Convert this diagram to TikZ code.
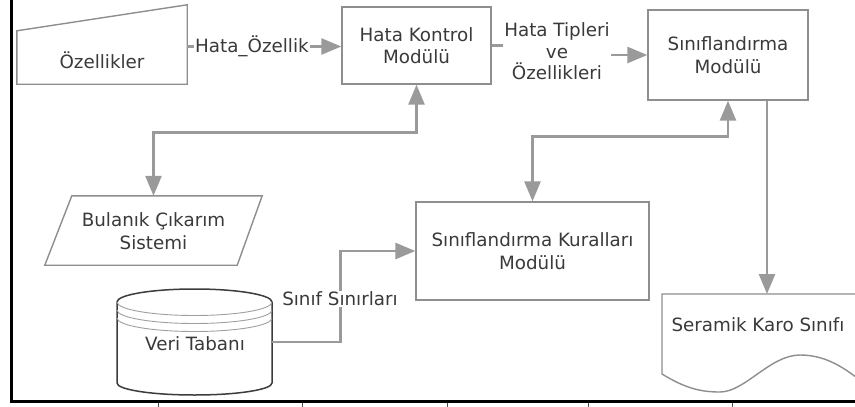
\documentclass[tikz,border=0pt]{standalone}
\usepackage{fontspec}
\setmainfont{DejaVu Sans}
\usetikzlibrary{arrows.meta,calc}
\definecolor{linegray}{HTML}{9A9A9A}
\definecolor{boxgray}{HTML}{8E8E8E}
\definecolor{txt}{HTML}{3A3A3A}
\definecolor{cylline}{HTML}{3C3C3C}
\begin{document}
\begin{tikzpicture}[x=1pt,y=-1pt,
  font=\fontsize{18.3pt}{22.5pt}\selectfont, text=txt,
  box/.style={draw=boxgray, line width=1.4pt, inner sep=0pt, fill=white, align=center},
  area/.style={inner sep=0pt},
  txtnode/.style={align=center, inner sep=0pt},
  tip/.tip={Triangle[length=20pt,width=16pt]},
  conn/.style={draw=linegray, line width=2.7pt, -tip},
  dconn/.style={draw=linegray, line width=2.7pt, tip-tip},
  plain/.style={draw=linegray, line width=2.7pt},
  lbl/.style={fill=white, inner sep=1.5pt, align=center},
  cyl/.style={draw=cylline, line width=1.5pt, fill=white},
  capline/.style={draw=gray!75, line width=0.9pt}
]
\clip (0,0) rectangle (855,407);
\fill[white] (0,0) rectangle (855,407);

% --- process boxes
\node[box, minimum width=149pt, minimum height=77pt] (hk) at (416.5,45.5) {Hata Kontrol\\Modülü};
\node[box, minimum width=160pt, minimum height=90pt] (sm) at (728,55) {Sınıflandırma\\Modülü};
\node[box, minimum width=233pt, minimum height=98pt] (kr) at (532.5,251) {Sınıflandırma Kuralları\\Modülü};

% --- manual input: Özellikler
\node[area, minimum width=170pt, minimum height=79pt] (oz) at (102,44.5) {};
\draw[box] (oz.south west) -- ($(oz.north west)+(0,26)$) -- (oz.north east) -- (oz.south east) -- cycle;
\node[txtnode] at (102,60) {Özellikler};

% --- data (parallelogram): Bulanık Çıkarım Sistemi
\node[area, minimum width=217pt, minimum height=69pt] (bc) at (153.5,230.5) {};
\draw[box] ($(bc.north west)+(27,0)$) -- (bc.north east) -- ($(bc.south east)+(-25,0)$) -- (bc.south west) -- cycle;
\node[txtnode, align=center] at (153.5,231) {Bulanık Çıkarım\\Sistemi};

% --- database cylinder: Veri Tabanı
\node[area, minimum width=155pt, minimum height=106pt] (vt) at (194.5,342) {};
\filldraw[cyl] (117,302) -- (117,383)
  arc[start angle=180, end angle=360, x radius=77.5pt, y radius=12pt]
  -- (272,302)
  arc[start angle=0, end angle=180, x radius=77.5pt, y radius=13pt] -- cycle;
\foreach \yy in {302,310,318}
  \draw[capline] (117,\yy) arc[start angle=180, end angle=360, x radius=77.5pt, y radius=13.5pt];
\node[txtnode] at (195,344) {Veri Tabanı};

% --- document: Seramik Karo Sınıfı
\node[area, minimum width=210pt, minimum height=80pt, anchor=north] (sk) at (767,294) {};
\draw[box] (662,294) -- (662,374)
  .. controls (685,388) and (700,392) .. (720,392)
  .. controls (745,392) and (770,355) .. (800,355)
  .. controls (830,355) and (850,372) .. (872,390)
  -- (872,294) -- cycle;
\node[txtnode] at (758,325) {Seramik Karo Sınıfı};

% --- connectors
\coordinate (ozout) at ($(oz.east)+(0,2)$);
\draw[conn] (ozout) -- node[lbl, pos=0.42] {Hata\_Özellik} (ozout -| hk.west);

\node[lbl, inner sep=1.5pt, font=\fontsize{18.3pt}{21.5pt}\selectfont] (ht) at (557,51.5) {Hata Tipleri\\ve\\Özellikleri};
\draw[plain] (hk.east) -- (hk.east -| ht.west);
\draw[conn] (ht.east |- sm.west) -- (sm.west);

\draw[dconn] (hk.south) -- ++(0,48) -| (bc.north);
\draw[dconn] (sm.south) -- ++(0,36) -| (kr.north);

\draw[conn] (vt.east) -- ++(68,0) |- (kr.west);
\node[lbl, inner sep=1pt] (ss) at (340,299) {Sınıf Sınırları};

\draw[conn] (sm.south -| sk.north) -- (sk.north);

% --- frame
\draw[black, line width=2.7pt] (11.5,-2) -- (11.5,401.5) -- (857,401.5);
\foreach \x in {158,302,447,588,732}
  \draw[gray!60!black, line width=0.9pt] (\x,402.5) -- (\x,407);
\end{tikzpicture}
\end{document}
